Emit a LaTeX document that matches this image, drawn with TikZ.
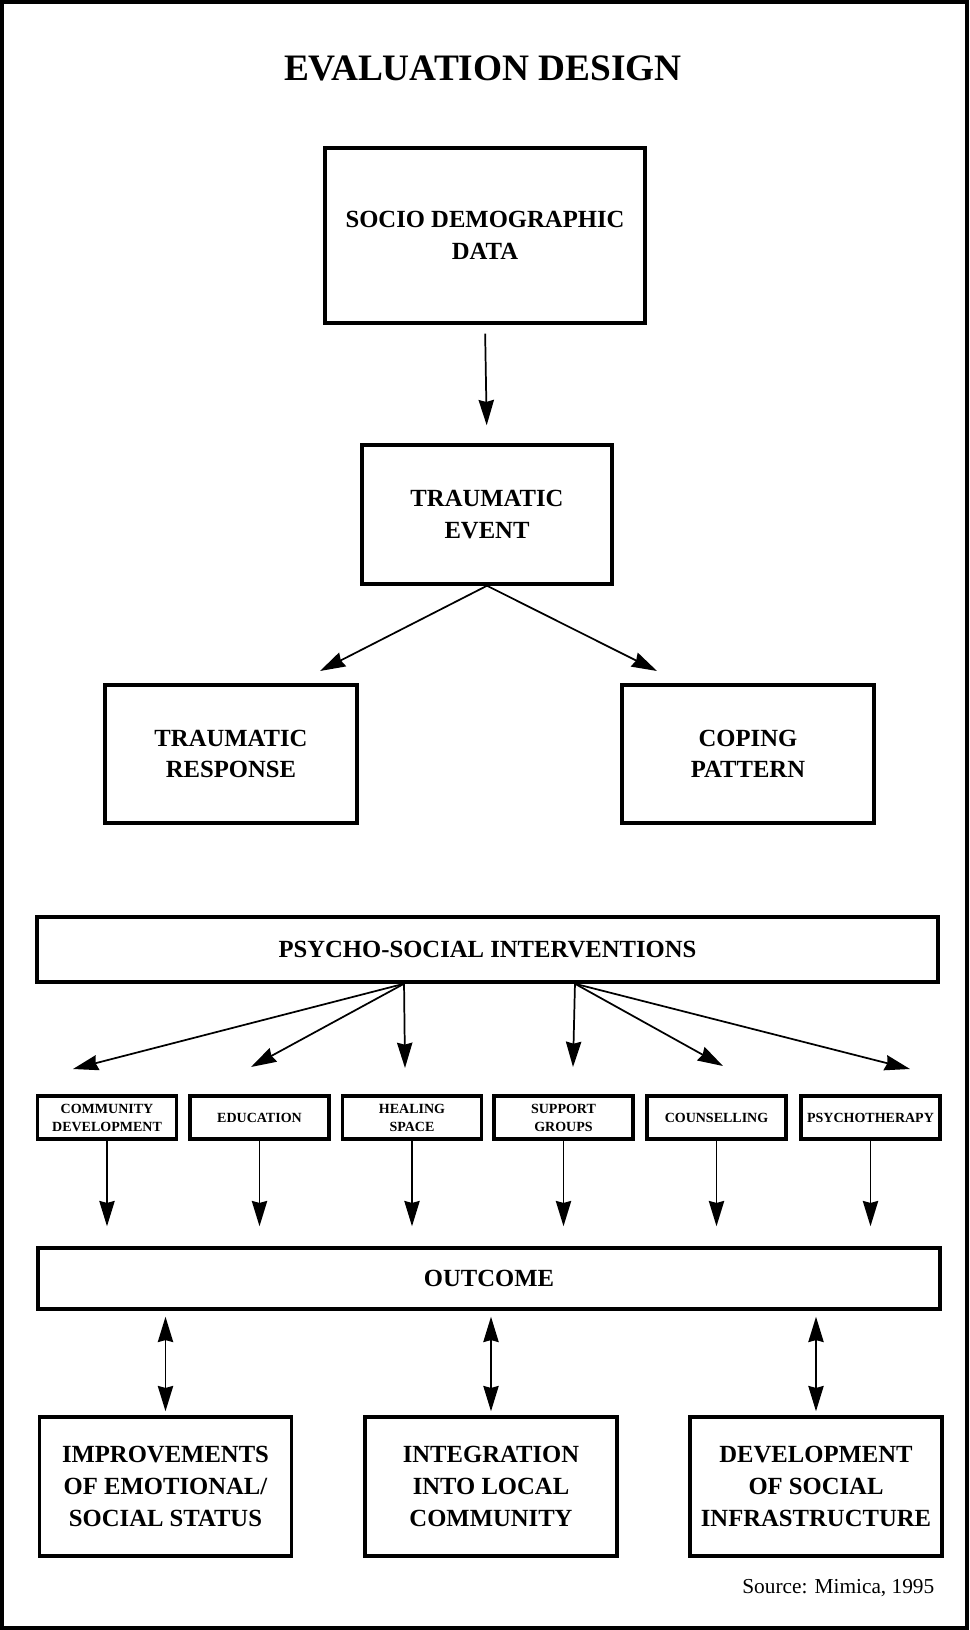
\documentclass[tikz,border=0pt]{standalone}
\usepackage{fontspec}
\setmainfont{Liberation Serif}
\usetikzlibrary{arrows.meta}
\begin{document}
\begin{tikzpicture}[x=0.75pt,y=-0.75pt,
  boxbase/.style={draw, line width=2.6pt, align=center, inner sep=0pt, text=black},
  bigbox/.style={boxbase, font=\fontsize{18.5}{23.5}\selectfont\bfseries},
  lowbox/.style={boxbase, minimum width=189pt, minimum height=104.25pt, font=\fontsize{18.5}{24}\selectfont\bfseries},
  smallbox/.style={boxbase, line width=2.9pt, minimum width=104.25pt, minimum height=32.25pt, font=\fontsize{10.5}{13.5}\selectfont\bfseries},
  arr/.style={line width=1.3pt, -{Stealth[length=19pt,width=11.5pt,inset=1.5pt]}},
  darr/.style={line width=1.3pt, {Stealth[length=19pt,width=11.5pt,inset=1.5pt]}-{Stealth[length=19pt,width=11.5pt,inset=1.5pt]}}
]
\useasboundingbox (0,0) rectangle (970,1630);
\draw[line width=2.6pt] (2,2) rectangle (967,1628);

% title
\node[font=\fontsize{28}{32}\selectfont\bfseries] (title) at (483,68) {EVALUATION DESIGN};

% upper boxes
\node[bigbox, minimum width=240pt, minimum height=131.25pt] (socio) at (485,235.5) {SOCIO DEMOGRAPHIC\\DATA};
\node[bigbox, minimum width=187.5pt, minimum height=104.25pt] (tevent) at (487,514.5) {TRAUMATIC\\EVENT};
\node[bigbox, minimum width=189pt, minimum height=103.5pt] (tresp) at (231,754) {TRAUMATIC\\RESPONSE};
\node[bigbox, minimum width=189pt, minimum height=103.5pt] (coping) at (748,754) {COPING\\PATTERN};

\draw[arr, shorten <=6.75pt, shorten >=13.5pt] (socio.south) -- (tevent.north);

\coordinate (tipL) at (320,671);
\coordinate (tipR) at (657,671);
\draw[arr] (tevent.south) -- (tipL);
\draw[arr] (tevent.south) -- (tipR);

% interventions
\node[bigbox, minimum width=675.75pt, minimum height=48.75pt] (psycho) at (487.5,949.5) {PSYCHO-SOCIAL INTERVENTIONS};

\node[smallbox] (cd) at (107,1117.5) {COMMUNITY\\DEVELOPMENT};
\node[smallbox] (edu) at (259.5,1117.5) {EDUCATION};
\node[smallbox] (heal) at (412,1117.5) {HEALING\\SPACE};
\node[smallbox] (supp) at (563.5,1117.5) {SUPPORT\\GROUPS};
\node[smallbox] (couns) at (716.5,1117.5) {COUNSELLING};
\node[smallbox] (psyt) at (870.5,1117.5) {PSYCHOTHERAPY};

\coordinate (t1) at (73,1069);
\coordinate (t2) at (251,1067);
\coordinate (t3) at (405,1068);
\coordinate (t4) at (573,1067);
\coordinate (t5) at (723,1066);
\coordinate (t6) at (910,1069);

\draw[arr] ([xshift=-62.6pt]psycho.south) -- (t1);
\draw[arr] ([xshift=-62.6pt]psycho.south) -- (t2);
\draw[arr] ([xshift=-62.6pt]psycho.south) -- (t3);
\draw[arr] ([xshift=65.6pt]psycho.south) -- (t4);
\draw[arr] ([xshift=65.6pt]psycho.south) -- (t5);
\draw[arr] ([xshift=65.6pt]psycho.south) -- (t6);

% outcome
\node[bigbox, minimum width=676.5pt, minimum height=45.75pt] (outcome) at (489,1278.5) {OUTCOME};

\foreach \n in {cd,edu,heal,supp,couns,psyt}{
  \draw[arr, shorten >=15pt] (\n.south) -- (\n.south |- outcome.north);
}

% results
\node[lowbox] (b1) at (165.5,1486.5) {IMPROVEMENTS\\OF EMOTIONAL/\\SOCIAL STATUS};
\node[lowbox] (b2) at (491,1486.5) {INTEGRATION\\INTO LOCAL\\COMMUNITY};
\node[lowbox] (b3) at (816,1486.5) {DEVELOPMENT\\OF SOCIAL\\INFRASTRUCTURE};

\foreach \n in {b1,b2,b3}{
  \draw[darr, shorten <=4.5pt, shorten >=3pt] (\n.north |- outcome.south) -- (\n.north);
}

\node[anchor=east, font=\fontsize{16}{19}\selectfont] (src) at (939,1588) {Source: Mimica, 1995};
\end{tikzpicture}
\end{document}
